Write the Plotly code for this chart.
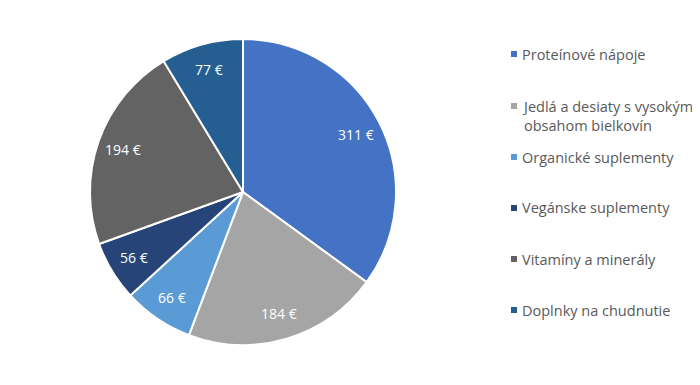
import math
import plotly.graph_objects as go

categories = ["Proteínové nápoje", "Jedlá a desiaty s vysokým obsahom bielkovín",
              "Organické suplementy", "Vegánske suplementy", "Vitamíny a minerály",
              "Doplnky na chudnutie"]
legend_labels = ["Proteínové nápoje", "Jedlá a desiaty s vysokým<br>obsahom bielkovín",
                 "Organické suplementy", "Vegánske suplementy", "Vitamíny a minerály",
                 "Doplnky na chudnutie"]
values = [311, 184, 66, 56, 194, 77]
colors = ["#4472C4", "#A5A5A5", "#5B9BD5", "#264478", "#636363", "#255E91"]

W, H = 700, 385
OFF = 8  # page body margin
cx, cy, r = 243 - OFF, 192 - OFF, 153

fig = go.Figure(go.Pie(
    labels=categories, values=values, sort=False, direction="clockwise", rotation=0,
    marker=dict(colors=colors, line=dict(color="white", width=2)),
    textinfo="none",
    domain=dict(x=[(cx - r) / W, (cx + r) / W], y=[1 - (cy + r) / H, 1 - (cy - r) / H]),
    showlegend=False, hoverinfo="label+value",
))

# data labels at ~0.83 radius, at the middle angle of each slice
total = sum(values)
cum = 0
for v in values:
    th = 2 * math.pi * (cum + v / 2) / total
    cum += v
    lx = cx + 0.83 * r * math.sin(th)
    ly = cy - 0.83 * r * math.cos(th)
    fig.add_annotation(x=lx / W, y=1 - ly / H, xref="paper", yref="paper",
                       text=f"{v} €", showarrow=False, xanchor="center", yanchor="middle",
                       font=dict(size=14, color="white", family="Open Sans"))

leg_y = [54, 116.5, 157, 208, 259, 310]
mark_y = [54, 106, 157, 208, 259, 310]
for lab, col, y, my in zip(legend_labels, colors, leg_y, mark_y):
    fig.add_shape(type="rect", xref="paper", yref="paper",
                  x0=(511 - OFF) / W, x1=(517 - OFF) / W,
                  y0=1 - (my - OFF + 3) / H, y1=1 - (my - OFF - 3) / H,
                  fillcolor=col, line=dict(width=0))
    fig.add_annotation(x=(520 - OFF) / W, y=1 - (y - OFF) / H, xref="paper", yref="paper",
                       text=lab, showarrow=False, xanchor="left", yanchor="middle",
                       align="left",
                       font=dict(size=14.5, color="#595959", family="Open Sans"))

fig.update_layout(width=W, height=H, margin=dict(l=0, r=0, t=0, b=0),
                  paper_bgcolor="white", plot_bgcolor="white")
fig.write_html("out.html")
